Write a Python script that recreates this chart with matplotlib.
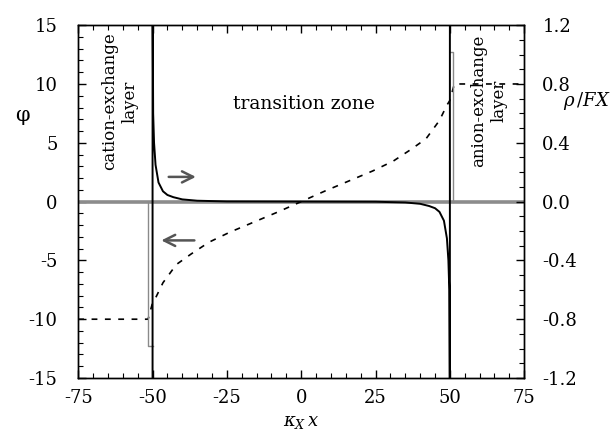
import matplotlib
matplotlib.use("Agg")
import matplotlib.pyplot as plt
from matplotlib.ticker import MultipleLocator

plt.rcParams['font.family'] = ['DejaVu Serif']
plt.rcParams['mathtext.fontset'] = 'dejavuserif'

# potential phi (dashed), left axis
phi_x = [-75, -51.5, -50, -49, -46.5, -42, -37, -31, -24, -16, -8, 0,
         8, 16, 24, 31, 37, 42, 46.5, 49, 50, 51.5, 75]
phi_y = [-10, -10, -8.6, -8.2, -6.9, -5.35, -4.45, -3.45, -2.6, -1.75, -0.9, 0,
         0.9, 1.75, 2.6, 3.45, 4.45, 5.35, 6.9, 8.2, 8.6, 10, 10]

# charge density rho/FX (solid black), right axis
rho_x = [-50, -50, -49.8, -49.5, -49, -48, -46.5, -45, -43, -40, -35, -25, 0,
         25, 35, 40, 43, 45, 46.5, 48, 49, 49.5, 49.8, 50, 50]
rho_y = [-1.5, 1.5, 0.6, 0.4, 0.25, 0.13, 0.07, 0.045, 0.03, 0.015, 0.006, 0.001, 0,
         -0.001, -0.006, -0.015, -0.03, -0.045, -0.07, -0.13, -0.25, -0.4, -0.6, -1.5, 1.5]

# fixed-charge edges (thin gray)
cat_x = [-51.5, -51.5, -50]
cat_y = [0, -0.98, -0.98]
an_x = [51.0, 51.0, 50]
an_y = [0, 1.02, 1.02]

# zero line
zero_x = [-75, 75]
zero_y = [0, 0]

fig = plt.figure(figsize=(6.16, 4.34), dpi=100)
ax = fig.add_axes([0.127, 0.129, 0.724, 0.813])
ax2 = ax.twinx()

ax.set_xlim(-75, 75)
ax.set_ylim(-15, 15)
ax2.set_ylim(-1.2, 1.2)

ax.plot(zero_x, zero_y, color='#8c8c8c', lw=2.6, zorder=2)
ax.plot(phi_x, phi_y, color='black', lw=1.2, linestyle=(0, (3.5, 4.5)), zorder=3)
ax2.plot(cat_x, cat_y, color='#8a8a8a', lw=1.0, zorder=3)
ax2.plot(an_x, an_y, color='#8a8a8a', lw=1.0, zorder=3)
ax2.plot(rho_x, rho_y, color='black', lw=1.4, zorder=4)

# arrows
arrow_kw = dict(arrowstyle='->,head_length=0.8,head_width=0.4', color='#555555', lw=1.8)
ax.annotate('', xy=(-34.5, 2.1), xytext=(-45.5, 2.1), arrowprops=arrow_kw)
ax.annotate('', xy=(-48.0, -3.3), xytext=(-35.0, -3.3), arrowprops=arrow_kw)

# texts
ax.text(-61, 8.5, 'cation-exchange\nlayer', rotation=90, ha='center', va='center',
        fontsize=12, linespacing=1.25)
ax.text(63, 8.6, 'anion-exchange\nlayer', rotation=90, ha='center', va='center',
        fontsize=12, linespacing=1.25)
ax.text(1, 8.3, 'transition zone', ha='center', va='center', fontsize=13.5)

# ticks
ax.set_xticks([-75, -50, -25, 0, 25, 50, 75])
ax.set_xticklabels(['-75', '-50', '-25', '0', '25', '50', '75'])
ax.set_yticks([-15, -10, -5, 0, 5, 10, 15])
ax.set_yticklabels(['-15', '-10', '-5', '0', '5', '10', '15'])
ax2.set_yticks([-1.2, -0.8, -0.4, 0.0, 0.4, 0.8, 1.2])
ax2.set_yticklabels(['-1.2', '-0.8', '-0.4', '0.0', '0.4', '0.8', '1.2'])
ax.xaxis.set_minor_locator(MultipleLocator(5))
ax.yaxis.set_minor_locator(MultipleLocator(1))
ax2.yaxis.set_minor_locator(MultipleLocator(0.1))

ax.tick_params(which='both', direction='in', top=True, right=False, labelsize=13)
ax.tick_params(which='major', length=6, width=1)
ax.tick_params(which='minor', length=3.5, width=0.8)
ax.tick_params(axis='x', pad=8)
ax.tick_params(axis='y', pad=15)
ax2.tick_params(which='both', direction='in', labelsize=13, pad=13)
ax2.tick_params(which='major', length=6, width=1)
ax2.tick_params(which='minor', length=3.5, width=0.8)

for a in (ax, ax2):
    for s in a.spines.values():
        s.set_linewidth(1.0)

ax.text(-0.125, 0.745, 'φ', transform=ax.transAxes, ha='center', va='center', fontsize=15)
ax2.text(1.14, 0.785, r'$\rho\,/FX$', transform=ax.transAxes, ha='center', va='center', fontsize=13)
ax.text(0.5, -0.1, r'$\kappa_X\,x$', transform=ax.transAxes, ha='center', va='top', fontsize=13)

fig.savefig('out.png', dpi=100)
